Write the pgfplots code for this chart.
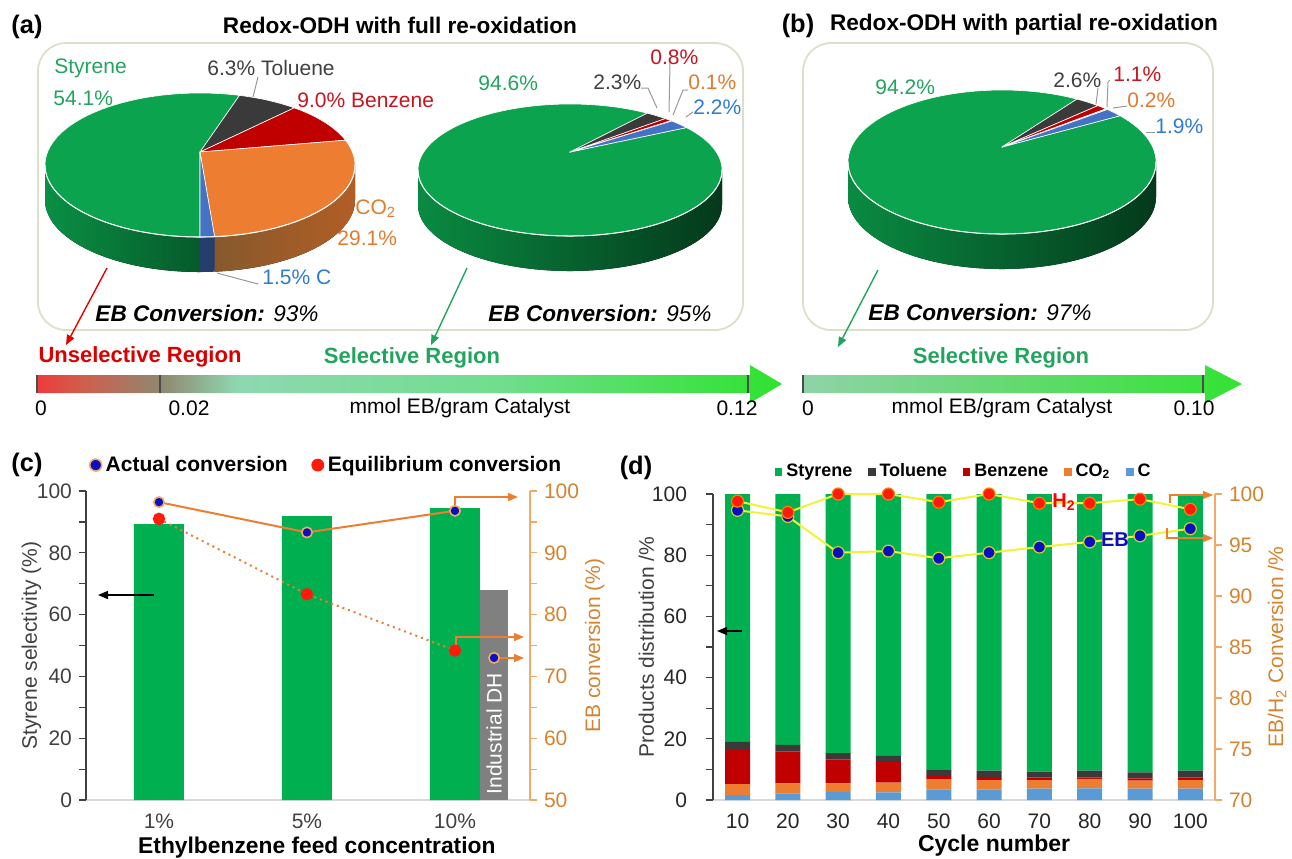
\documentclass[border=0pt]{standalone}
\usepackage{fontspec}
\setmainfont{Liberation Sans}
\usepackage{pgfplots}
\pgfplotsset{compat=1.18}
\usetikzlibrary{arrows.meta}

\definecolor{pgreen}{HTML}{0BA34D}
\definecolor{bgreen}{HTML}{00B050}
\definecolor{pdark}{HTML}{3A3A3A}
\definecolor{pred}{HTML}{C00000}
\definecolor{porange}{HTML}{ED7D31}
\definecolor{pblue}{HTML}{4472C4}
\definecolor{lblue}{HTML}{5B9BD5}
\definecolor{tgreen}{HTML}{22A45E}
\definecolor{tred}{HTML}{C8141E}
\definecolor{torange}{HTML}{E07B30}
\definecolor{tblue}{HTML}{2E7AD6}
\definecolor{tgray}{HTML}{404040}
\definecolor{axor}{HTML}{F2A868}
\definecolor{lbor}{HTML}{D4832F}
\definecolor{boxc}{HTML}{DCE0CA}
\definecolor{ylw}{HTML}{F2F23A}
\definecolor{mblue}{HTML}{0A10C0}
\definecolor{mred}{HTML}{FF1A0A}
\definecolor{gA1}{HTML}{EE3B3B}
\definecolor{gA2}{HTML}{CF5E4C}
\definecolor{gA3}{HTML}{8F8870}
\definecolor{gA4}{HTML}{8ED8B0}
\definecolor{gA5}{HTML}{70DE8E}
\definecolor{gA6}{HTML}{2EE22E}
\definecolor{gB1}{HTML}{8FD3A8}
\definecolor{gB2}{HTML}{33E233}

\pgfdeclarehorizontalshading{gradA}{100bp}{color(0bp)=(gA1); color(25bp)=(gA1); color(28bp)=(gA2); color(33.3bp)=(gA3); color(38.5bp)=(gA4); color(56bp)=(gA5); color(75bp)=(gA6); color(100bp)=(gA6)}
\pgfdeclarehorizontalshading{gradB}{100bp}{color(0bp)=(gB1); color(25bp)=(gB1); color(75bp)=(gB2); color(100bp)=(gB2)}

\newcommand{\fA}{\fontsize{10.5}{12.5}\selectfont}
\newcommand{\fT}{\fontsize{11.3}{13.5}\selectfont\bfseries}
\newcommand{\fP}{\fontsize{12.7}{15}\selectfont\bfseries}

% cx cy rx ry vy a1 a2 style
\newcommand{\slice}[8]{%
 \fill[#8, draw=white, line width=0.3pt, line join=round] ({#1},{#5}) -- ({#1+#3*cos(#6)},{#2-#4*sin(#6)}) arc[start angle={#6}, end angle={#7}, x radius={#3*0.5pt}, y radius={#4*0.5pt}] -- cycle;}
% cx cy rx ry depth a1 a2 style
\newcommand{\wall}[8]{%
 \fill[#8] ({#1+#3*cos(#6)},{#2-#4*sin(#6)}) arc[start angle={#6}, end angle={#7}, x radius={#3*0.5pt}, y radius={#4*0.5pt}] -- ({#1+#3*cos(#7)},{#2+#5-#4*sin(#7)}) arc[start angle={#7}, end angle={#6}, x radius={#3*0.5pt}, y radius={#4*0.5pt}] -- cycle;}

\begin{document}
\begin{tikzpicture}
\path[use as bounding box] (0,0) rectangle (646pt,-429pt);

% ---------------- (c) left axis
\begin{axis}[
  at={(43pt,-400pt)}, anchor=south west, scale only axis, width=222pt, height=154.5pt,
  xmin=-0.4932, xmax=2.5068, ymin=0, ymax=100,
  axis x line*=bottom, axis y line*=left,
  x axis line style={draw=black!15, line width=0.8pt, -},
  y axis line style={draw=black!75, line width=0.8pt, -},
  xtick={0,1,2}, xticklabels={1\%,5\%,10\%}, xtick style={draw=none},
  ytick={0,20,40,60,80,100}, minor ytick={10,30,50,70,90},
  tick align=outside, major tick length=3.5pt, minor tick length=3.5pt,
  ytick style={draw=black!75, line width=0.6pt},
  tick label style={font=\fA, text=tgray},
  /pgf/number format/assume math mode=true,
  xlabel={Ethylbenzene feed concentration},
  xlabel style={font=\fontsize{11.4}{13}\selectfont\bfseries, at={(ticklabel cs:0.52)}, yshift=3pt},
  ylabel={Styrene selectivity (\%)}, ylabel style={font=\fA, text=tgray}, ylabel shift=-9pt,
  clip=false]
\addplot[ybar, bar width=25pt, bar shift=0pt, fill=bgreen, draw=none] coordinates {(0,89.3) (1,91.9) (2,94.5)};
\addplot[ybar, bar width=14pt, bar shift=0pt, fill=black!50, draw=none] coordinates {(2.264,68)};
\node[rotate=90, text=white, font=\fA] at (axis cs:2.264,21.5) {Industrial DH};
\end{axis}

% ---------------- (c) right axis
\begin{axis}[
  at={(43pt,-400pt)}, anchor=south west, scale only axis, width=222pt, height=154.5pt,
  xmin=-0.4932, xmax=2.5068, ymin=50, ymax=100,
  axis x line=none, axis y line*=right,
  y axis line style={draw=axor, line width=0.8pt, -},
  ytick={50,60,70,80,90,100}, minor ytick={55,65,75,85,95},
  tick align=outside, major tick length=3.5pt, minor tick length=3.5pt,
  ytick style={draw=axor, line width=0.6pt},
  tick label style={font=\fA, text=lbor},
  /pgf/number format/assume math mode=true,
  ylabel={EB conversion (\%)}, ylabel style={font=\fA, text=lbor}, ylabel shift=-4pt,
  clip=false,
  legend columns=2,
  legend style={at={(-0.006,1.084)}, anchor=west, draw=none, fill=none, font=\fontsize{10.5}{12.5}\selectfont\bfseries,
    /tikz/every odd column/.style={column sep=0pt},
    /tikz/every even column/.style={column sep=10pt},
    nodes={inner xsep=2pt}},
  legend image code/.code={\draw[#1] plot coordinates {(3pt,0pt)};}
  ]
\addlegendimage{only marks, mark=*, mark size=3pt, mark options={fill=mblue, draw=axor, line width=0.8pt}}
\addlegendentry{Actual conversion}
\addlegendimage{only marks, mark=*, mark size=3pt, mark options={fill=mred, draw=mred}}
\addlegendentry{Equilibrium conversion}
\addplot[forget plot, porange, dotted, line width=1pt, mark=*, mark size=2.6pt, mark options={solid, fill=mred, draw=mred}] coordinates {(0,95.5) (1,83.3) (2,74.2)};
\addplot[forget plot, porange, line width=1pt, mark=*, mark size=2.6pt, mark options={fill=mblue, draw=axor, line width=0.8pt}] coordinates {(0,98.2) (1,93.3) (2,96.8)};
\addplot[forget plot, only marks, mark=*, mark size=2.6pt, mark options={fill=mblue, draw=axor, line width=0.8pt}] coordinates {(2.264,73.0)};
\end{axis}

% ---------------- (d) left axis
\begin{axis}[
  at={(356.5pt,-400pt)}, anchor=south west, scale only axis, width=251pt, height=153pt,
  xmin=5.13, xmax=104.9, ymin=0, ymax=100,
  ybar stacked, bar width=12.5pt,
  axis x line*=bottom, axis y line*=left,
  x axis line style={draw=black!15, line width=0.8pt, -},
  y axis line style={draw=black!75, line width=0.8pt, -},
  xtick={10,20,30,40,50,60,70,80,90,100}, xtick style={draw=none},
  ytick={0,20,40,60,80,100}, minor ytick={10,30,50,70,90},
  tick align=outside, major tick length=3.5pt, minor tick length=3.5pt,
  ytick style={draw=black!75, line width=0.6pt},
  tick label style={font=\fA, text=black!85},
  yticklabel style={xshift=-6pt},
  /pgf/number format/assume math mode=true,
  xlabel={Cycle number},
  xlabel style={font=\fontsize{11.5}{13}\selectfont\bfseries, at={(ticklabel cs:0.56)}, yshift=4pt},
  ylabel={Products distribution /\%}, ylabel style={font=\fA, text=tgray}, ylabel shift=-8pt,
  clip=false,
  reverse legend, legend columns=5,
  legend style={at={(0.111,1.072)}, anchor=west, draw=none, fill=none, font=\fontsize{9}{11}\selectfont\bfseries,
    /tikz/every odd column/.style={column sep=0pt},
    /tikz/every even column/.style={column sep=6pt},
    nodes={inner xsep=2pt}},
  legend image code/.code={\fill[#1] (0pt,-1.8pt) rectangle (3.6pt,1.8pt);}
  ]
\addplot[fill=lblue, draw=none] coordinates {(10,1.6) (20,2.2) (30,2.7) (40,2.5) (50,3.5) (60,3.5) (70,3.7) (80,3.8) (90,3.7) (100,3.7)};
\addlegendentry{C}
\addplot[fill=porange, draw=none] coordinates {(10,3.6) (20,3.2) (30,2.7) (40,3.2) (50,3.3) (60,3.0) (70,2.8) (80,3.1) (90,2.6) (100,2.8)};
\addlegendentry{CO\textsubscript{2}}
\addplot[fill=pred, draw=none] coordinates {(10,11.1) (20,10.4) (30,7.9) (40,6.8) (50,1.0) (60,1.1) (70,0.9) (80,0.5) (90,0.8) (100,0.8)};
\addlegendentry{Benzene}
\addplot[fill=pdark, draw=none] coordinates {(10,2.7) (20,2.2) (30,2.0) (40,1.9) (50,2.2) (60,2.0) (70,1.9) (80,2.2) (90,1.9) (100,2.3)};
\addlegendentry{Toluene}
\addplot[fill=bgreen, draw=none] coordinates {(10,81.0) (20,82.0) (30,84.7) (40,85.6) (50,90.0) (60,90.4) (70,90.7) (80,90.4) (90,91.0) (100,90.4)};
\addlegendentry{Styrene}
\end{axis}

% ---------------- (d) right axis
\begin{axis}[
  at={(356.5pt,-400pt)}, anchor=south west, scale only axis, width=251pt, height=153pt,
  xmin=5.13, xmax=104.9, ymin=70, ymax=100,
  axis x line=none, axis y line*=right,
  y axis line style={draw=axor, line width=0.8pt, -},
  ytick={70,75,80,85,90,95,100},
  tick align=outside, major tick length=3.5pt,
  ytick style={draw=axor, line width=0.6pt},
  tick label style={font=\fA, text=lbor},
  /pgf/number format/assume math mode=true,
  ylabel={EB/H\textsubscript{2} Conversion /\%}, ylabel style={font=\fA, text=lbor}, ylabel shift=-5pt,
  clip=false]
\addplot[ylw, line width=1pt, mark=*, mark size=3pt, mark options={fill=mblue, draw=ylw!70!olive, line width=0.6pt}] coordinates {(10,98.4) (20,97.8) (30,94.25) (40,94.4) (50,93.7) (60,94.25) (70,94.8) (80,95.3) (90,95.9) (100,96.6)};
\addplot[ylw, line width=1pt, mark=*, mark size=3pt, mark options={fill=mred, draw=orange, line width=0.6pt}] coordinates {(10,99.3) (20,98.2) (30,100) (40,100) (50,99.2) (60,100) (70,99.1) (80,99.1) (90,99.5) (100,98.5)};
\end{axis}

% ---------------- overlay (pixel coordinates)
\begin{axis}[at={(0pt,0pt)}, anchor=north west, scale only axis, width=646pt, height=429pt,
  xmin=0, xmax=1292, ymin=0, ymax=858, y dir=reverse, hide axis, clip=false]
% boxes
\draw[boxc, line width=0.9pt, rounded corners=14pt] (38,43) rectangle (743,330);
\draw[boxc, line width=0.9pt, rounded corners=14pt] (803,43) rectangle (1213,330);
% titles
\node[font=\fP] at (27,27) {(a)};
\node[font=\fT] at (400,25) {Redox-ODH with full re-oxidation};
\node[font=\fP] at (798,26) {(b)};
\node[font=\fT] at (1024,25) {Redox-ODH with partial re-oxidation};
\node[font=\fP] at (27,465) {(c)};
\node[font=\fP] at (636,468) {(d)};

% ---- pie 1 (full re-oxidation, low loading)
\wall{200}{165}{155}{72}{35}{270}{180}{left color=pgreen!88!black, right color=pgreen!55!black}
\wall{200}{165}{155}{72}{35}{0}{270-3.6*98.5}{left color=brown!70!black, right color=porange!75!black}
\wall{200}{165}{155}{72}{35}{270-3.6*98.5}{270-3.6*100}{fill=pblue!55!black}
\slice{200}{165}{155}{72}{152}{270}{270-3.6*54.1}{pgreen}
\slice{200}{165}{155}{72}{152}{270-3.6*54.1}{270-3.6*60.4}{pdark}
\slice{200}{165}{155}{72}{152}{270-3.6*60.4}{270-3.6*69.4}{pred}
\slice{200}{165}{155}{72}{152}{270-3.6*69.4}{270-3.6*98.5}{porange}
\slice{200}{165}{155}{72}{152}{270-3.6*98.5}{270-3.6*100}{pblue}
\draw[white, line width=0.5pt] (355,165) arc[start angle=0, end angle=-180, x radius=77.5pt, y radius=36pt];

% ---- pie 2
\wall{570}{170}{152}{66}{35}{0}{-180}{left color=pgreen!85!black, middle color=pgreen!65!black, right color=pgreen!35!black}
\slice{570}{170}{152}{66}{152}{40}{40-3.6*94.6}{pgreen}
\slice{570}{170}{152}{66}{152}{40-3.6*94.6}{40-3.6*96.9}{pdark}
\slice{570}{170}{152}{66}{152}{40-3.6*96.9}{40-3.6*97.7}{pred}
\slice{570}{170}{152}{66}{152}{40-3.6*97.7}{40-3.6*97.8}{porange}
\slice{570}{170}{152}{66}{152}{40-3.6*97.8}{40-3.6*100}{pblue}
\draw[white, line width=0.5pt] (722,170) arc[start angle=0, end angle=-180, x radius=76pt, y radius=33pt];

% ---- pie 3
\wall{1002}{162}{154}{72}{35}{0}{-180}{left color=pgreen!85!black, middle color=pgreen!65!black, right color=pgreen!35!black}
\slice{1002}{162}{154}{72}{147}{40}{40-3.6*94.2}{pgreen}
\slice{1002}{162}{154}{72}{147}{40-3.6*94.2}{40-3.6*96.8}{pdark}
\slice{1002}{162}{154}{72}{147}{40-3.6*96.8}{40-3.6*97.9}{pred}
\slice{1002}{162}{154}{72}{147}{40-3.6*97.9}{40-3.6*98.1}{porange}
\slice{1002}{162}{154}{72}{147}{40-3.6*98.1}{40-3.6*100}{pblue}
\draw[white, line width=0.5pt] (1156,162) arc[start angle=0, end angle=-180, x radius=77pt, y radius=36pt];

% ---- pie labels
\begin{scope}[every node/.style={font=\fA, anchor=west, inner sep=0pt}]
\node[text=tgreen] at (54,68) {Styrene};
\node[text=tgreen] at (53,98) {54.1\%};
\node[text=tgray] at (207,68) {6.3\% Toluene};
\node[text=tred] at (297,100) {9.0\% Benzene};
\node[text=torange] at (355,209) {CO\textsubscript{2}};
\node[text=torange] at (337,238) {29.1\%};
\node[text=tblue] at (262,277) {1.5\% C};
\node[text=tgreen] at (478,83) {94.6\%};
\node[text=tgray] at (593,82) {2.3\%};
\node[text=tred] at (650,57) {0.8\%};
\node[text=torange] at (688,82) {0.1\%};
\node[text=tblue] at (693,107) {2.2\%};
\node[text=tgreen] at (875,87) {94.2\%};
\node[text=tgray] at (1053,80) {2.6\%};
\node[text=tred] at (1113,74) {1.1\%};
\node[text=torange] at (1127,100) {0.2\%};
\node[text=tblue] at (1155,126) {1.9\%};
\end{scope}
\begin{scope}[black!40, line width=0.5pt]
\draw (258,77) -- (253,97);
\draw (217,273) -- (258,284);
\draw (641,88) -- (648,88) -- (657,108);
\draw (670,63) -- (669,112);
\draw (688,90) -- (683,90) -- (673,115);
\draw (693,112) -- (686,117);
\draw (1098,88) -- (1096,104);
\draw (1110,80) -- (1108,82) -- (1107,107);
\draw (1127,106) -- (1113,108);
\draw (1155,132) -- (1146,132);
\end{scope}
\node[font=\fT] at (207,313) {\itshape EB Conversion: \mdseries 93\%};
\node[font=\fT] at (600,313) {\itshape EB Conversion: \mdseries 95\%};
\node[font=\fT] at (980,312) {\itshape EB Conversion: \mdseries 97\%};
% pointer arrows
\draw[red!90!black, line width=0.7pt, -{Triangle[length=5pt,width=4pt]}] (107,268) -- (66,345);
\draw[tgreen, line width=0.7pt, -{Triangle[length=5pt,width=4pt]}] (467,268) -- (431,345);
\draw[tgreen, line width=0.7pt, -{Triangle[length=5pt,width=4pt]}] (878,270) -- (838,347);

% ---- gradient arrows
\path[shading=gradA] (37,375) -- (750,375) -- (750,365) -- (782,384) -- (750,403) -- (750,393) -- (37,393) -- cycle;
\draw[black!70, line width=0.6pt] (37,375) -- (37,393) (160,375) -- (160,393) (748,375) -- (748,393);
\path[shading=gradB] (803,375) -- (1205,375) -- (1205,365) -- (1242,384) -- (1205,403) -- (1205,393) -- (803,393) -- cycle;
\draw[black!70, line width=0.6pt] (803,375) -- (803,393) (1203,375) -- (1203,393);
\node[font=\fontsize{11}{13}\selectfont\bfseries, text=red!85!black] at (140,357) {Unselective Region};
\node[font=\fontsize{11}{13}\selectfont\bfseries, text=tgreen] at (412,358) {Selective Region};
\node[font=\fontsize{11}{13}\selectfont\bfseries, text=tgreen] at (1001,358) {Selective Region};
\node[font=\fA] at (41,408) {0};
\node[font=\fA] at (189,408) {0.02};
\node[font=\fA] at (460,408) {mmol EB/gram Catalyst};
\node[font=\fA] at (737,408) {0.12};
\node[font=\fA] at (808,408) {0};
\node[font=\fA] at (1002,408) {mmol EB/gram Catalyst};
\node[font=\fA] at (1194,408) {0.10};

% ---- (c) annotations
\draw[black, line width=0.7pt, -{Triangle[length=5pt,width=4pt]}] (154,595) -- (98,595);
\begin{scope}[porange, line width=0.7pt]
\draw[-{Triangle[length=5pt,width=4pt]}] (455,505) -- (455,497) -- (518,497);
\draw[-{Triangle[length=5pt,width=4pt]}] (456,645) -- (456,637) -- (524,637);
\draw[-{Triangle[length=5pt,width=4pt]}] (500,658) -- (524,658);
\end{scope}
% ---- (d) annotations
\draw[black, line width=0.7pt, -{Triangle[length=5pt,width=4pt]}] (742,631) -- (717,631);
\begin{scope}[porange, line width=0.7pt]
\draw[-{Triangle[length=5pt,width=4pt]}] (1170,503) -- (1170,495) -- (1213,495);
\draw[-{Triangle[length=5pt,width=4pt]}] (1167,528) -- (1167,538) -- (1213,538);
\end{scope}
\node[font=\fontsize{10}{12}\selectfont\bfseries, text=red] at (1064,502) {H\textsubscript{2}};
\node[font=\fontsize{10}{12}\selectfont\bfseries, text=mblue] at (1115,540) {EB};
\end{axis}
\end{tikzpicture}
\end{document}
